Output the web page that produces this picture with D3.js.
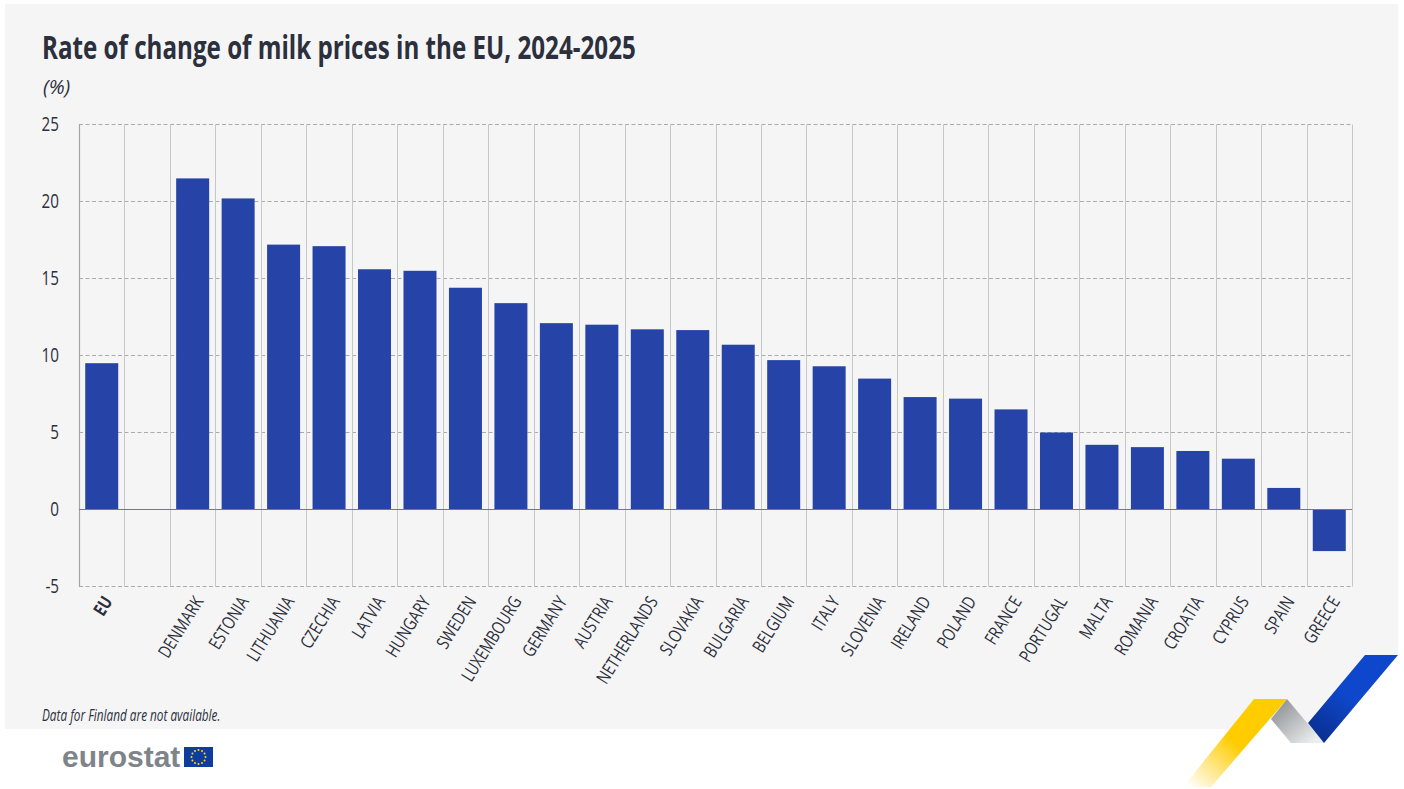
<!DOCTYPE html>
<html><head><meta charset="utf-8">
<script src="https://cdn.jsdelivr.net/npm/d3@7"></script>
<style>
html,body{margin:0;padding:0;background:#fff}
svg{display:block}
text{font-family:"Open Sans",sans-serif;fill:#2c2f3c}
</style></head><body>
<svg id="c" width="1404" height="789"></svg>
<script>
const categories=["EU","","DENMARK","ESTONIA","LITHUANIA","CZECHIA","LATVIA","HUNGARY","SWEDEN","LUXEMBOURG","GERMANY","AUSTRIA","NETHERLANDS","SLOVAKIA","BULGARIA","BELGIUM","ITALY","SLOVENIA","IRELAND","POLAND","FRANCE","PORTUGAL","MALTA","ROMANIA","CROATIA","CYPRUS","SPAIN","GREECE"];
const values=[9.5,null,21.5,20.2,17.2,17.1,15.6,15.5,14.4,13.4,12.1,12.0,11.7,11.65,10.7,9.7,9.3,8.5,7.3,7.2,6.5,5.0,4.2,4.05,3.8,3.3,1.4,-2.7];
const yTicks=[-5,0,5,10,15,20,25];
const titleText="Rate of change of milk prices in the EU, 2024-2025";
const unitText="(%)";
const noteText="Data for Finland are not available.";

const svg=d3.select("#c");
const defs=svg.append("defs");
function grad(id,x1,y1,x2,y2,stops){
  const g=defs.append("linearGradient").attr("id",id).attr("gradientUnits","userSpaceOnUse")
    .attr("x1",x1).attr("y1",y1).attr("x2",x2).attr("y2",y2);
  stops.forEach(s=>g.append("stop").attr("offset",s[0]).attr("stop-color",s[1]).attr("stop-opacity",s[2]===undefined?1:s[2]));
}
grad("gold",1270,705,1195,790,[[0,"#ffcc00"],[0.45,"#ffcc00"],[1,"#ffcc00",0.02]]);
grad("grey",1275,705,1310,745,[[0,"#8f9296"],[1,"#eceeef"]]);
grad("blue",1370,660,1312,735,[[0,"#0e47cb"],[0.45,"#0e47cb"],[1,"#0a2f8f"]]);

// squeeze text horizontally, the reference uses a condensed face
function squeeze(sel,f){
  sel.each(function(){
    if(!this.textContent) return;
    this.setAttribute("textLength",this.getComputedTextLength()*f);
    this.setAttribute("lengthAdjust","spacingAndGlyphs");
  });
  return sel;
}

svg.append("polygon").attr("fill","#f5f5f5")
  .attr("points","5,4 1398,4 1398,655 1324,743 1291,743 1271,719 1261,729 5,729");

const x=d3.scaleBand().domain(categories.map((c,i)=>i)).range([79,1352]).paddingInner(0).paddingOuter(0);
const y=d3.scaleLinear().domain([-5,25]).range([586.5,124.5]);

const g=svg.append("g");
g.selectAll("line.h").data(yTicks.filter(v=>v!==0)).join("line").attr("class","h")
  .attr("x1",79).attr("x2",1352).attr("y1",d=>y(d)).attr("y2",d=>y(d))
  .attr("stroke","#a9abae").attr("stroke-width",1).attr("stroke-dasharray","4 2.5");
g.selectAll("line.v").data(d3.range(1,categories.length+1)).join("line").attr("class","v")
  .attr("x1",d=>Math.round(79+d*x.step())+.5).attr("x2",d=>Math.round(79+d*x.step())+.5)
  .attr("y1",y(25)).attr("y2",y(-5)).attr("stroke","#c6c7c9").attr("stroke-width",1);
g.append("line").attr("x1",79.5).attr("x2",79.5).attr("y1",y(25)).attr("y2",y(-5)).attr("stroke","#a2a4a7").attr("stroke-width",1.2);

const barW=33;
svg.append("g").selectAll("rect").data(values.map((v,i)=>({v,i})).filter(d=>d.v!==null)).join("rect")
  .attr("x",d=>x(d.i)+x.bandwidth()/2-barW/2)
  .attr("width",barW)
  .attr("y",d=>y(Math.max(0,d.v)))
  .attr("height",d=>Math.abs(y(d.v)-y(0)))
  .attr("fill","#2644a7");

svg.append("line").attr("x1",79).attr("x2",1352).attr("y1",y(0)).attr("y2",y(0)).attr("stroke","#77797c").attr("stroke-width",1);

squeeze(svg.append("g").selectAll("text").data(yTicks).join("text")
  .attr("x",59).attr("y",d=>y(d)+6.5).attr("text-anchor","end")
  .style("font-size","20px").text(d=>d),0.76);

squeeze(svg.append("g").selectAll("text").data(categories).join("text")
  .attr("text-anchor","end")
  .attr("transform",(d,i)=>`translate(${x(i)+x.bandwidth()/2+6},598) rotate(-58)`)
  .style("font-size","18px").style("font-weight",(d,i)=>i===0?"700":"400")
  .attr("dy","0.35em").text(d=>d),0.79);

squeeze(svg.append("text").attr("x",42).attr("y",59).style("font-size","32px").style("font-weight","700").text(titleText),0.755);
squeeze(svg.append("text").attr("x",43).attr("y",94).style("font-size","20px").style("font-style","italic").text(unitText),1.0);
squeeze(svg.append("text").attr("x",42).attr("y",721).style("font-size","15.5px").style("font-style","italic").text(noteText),0.76);

svg.append("text").attr("x",62).attr("y",767).style("font-family","'Liberation Sans',sans-serif").style("font-weight","700").style("font-size","30px").style("fill","#7f838a").text("eurostat");
svg.append("rect").attr("x",184).attr("y",747).attr("width",29).attr("height",20).attr("fill","#0f3d9e");
svg.append("g").selectAll("circle").data(d3.range(12)).join("circle")
  .attr("cx",d=>198.5+7*Math.cos(d*Math.PI/6)).attr("cy",d=>757+7*Math.sin(d*Math.PI/6)).attr("r",1).attr("fill","#ffd617");

svg.append("polygon").attr("fill","url(#grey)").attr("points","1287,699 1324,743 1291,743 1271,719");
svg.append("polygon").attr("fill","url(#gold)").attr("points","1254,699 1287,699 1211,787 1183,787");
svg.append("polygon").attr("fill","url(#blue)").attr("points","1365,655 1398,655 1324,743 1308,723");
</script></body></html>
